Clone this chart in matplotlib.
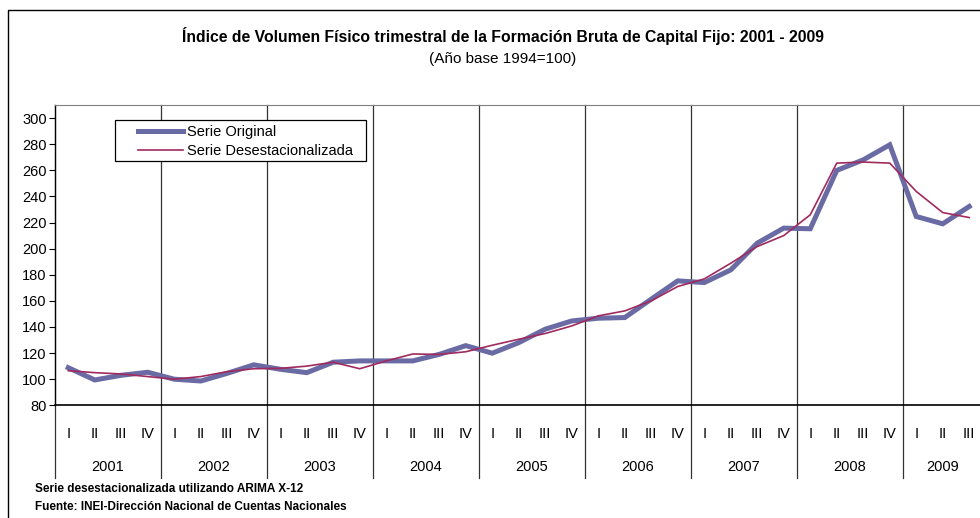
import matplotlib
matplotlib.use('Agg')
import matplotlib.pyplot as plt
from matplotlib import font_manager
from matplotlib.patches import Rectangle
import matplotlib.transforms as mtransforms

# fuente estrecha si existe
names = {f.name for f in font_manager.fontManager.ttflist}
if 'Liberation Sans Narrow' in names:
    FONT = 'Liberation Sans Narrow'
else:
    FONT = 'Liberation Sans'
plt.rcParams['font.family'] = [FONT, 'DejaVu Sans']

years = ['2001', '2002', '2003', '2004', '2005', '2006', '2007', '2008', '2009']
quarters = ['I', 'II', 'III', 'IV']
n_quarters = 35  # 2001 I .. 2009 III

serie_original = [108.8, 99.4, 103.0, 105.3, 100.0, 98.6, 104.5, 111.0,
                  107.6, 105.0, 113.0, 114.0, 114.0, 114.0, 119.0, 125.7,
                  119.9, 128.0, 138.3, 144.6, 146.7, 147.2, 161.3, 175.3,
                  174.0, 183.7, 204.2, 215.7, 215.2, 259.9, 268.0, 279.5,
                  224.6, 219.0, 232.3]
serie_desest = [106.5, 105.0, 104.0, 102.0, 100.0, 102.0, 105.8, 108.0,
                108.3, 110.0, 113.0, 108.0, 114.0, 119.3, 119.0, 121.0,
                126.0, 130.6, 135.0, 140.8, 148.5, 152.3, 160.0, 171.0,
                176.8, 188.8, 201.6, 210.0, 225.9, 265.5, 266.3, 265.5,
                243.8, 227.6, 223.8]

yticks = list(range(80, 301, 20))

W, H = 980, 518
fig = plt.figure(figsize=(W / 100, H / 100), dpi=100)

# marco exterior
fig.add_artist(Rectangle((8 / W, -0.01), 1.0, 1 - 9.5 / H + 0.01,
                         transform=fig.transFigure, fill=False,
                         edgecolor='black', linewidth=1.0))

ax_left, ax_right = 55, 982.5
ax_top, ax_bottom = 105, 405.3
ax = fig.add_axes([ax_left / W, (H - ax_bottom) / H,
                   (ax_right - ax_left) / W, (ax_bottom - ax_top) / H])

x = list(range(n_quarters))
ax.plot(x, serie_original, color='#6A6AA4', linewidth=3.6,
        solid_joinstyle='miter', label='Serie Original', zorder=3)
ax.plot(x, serie_desest, color='#A02A5E', linewidth=1.2,
        label='Serie Desestacionalizada', zorder=4)

ax.set_xlim(-0.5, n_quarters - 0.5)
ax.set_ylim(80, 310)
ax.set_yticks(yticks)
ax.set_yticklabels([str(v) for v in yticks], fontsize=10.5)
ax.tick_params(axis='y', direction='out', length=4, width=0.8, pad=2)
ax.set_xticks([])

ax.spines['right'].set_visible(False)
ax.spines['top'].set_color('#808080')
ax.spines['bottom'].set_linewidth(1.2)
ax.spines['left'].set_linewidth(0.9)

# separadores de año (dentro y debajo del gráfico)
trans = mtransforms.blended_transform_factory(ax.transData, ax.transAxes)
sep_bottom = (ax_bottom - 478) / (ax_bottom - ax_top)
for k in range(len(years)):
    xs = -0.5 + 4 * k
    ax.plot([xs, xs], [sep_bottom, 1.0], transform=trans, color='#333333',
            linewidth=0.9, clip_on=False, zorder=1)

# etiquetas de trimestre y año
q_y = (ax_bottom - 434) / (ax_bottom - ax_top)
y_y = (ax_bottom - 467) / (ax_bottom - ax_top)
for i in range(n_quarters):
    ax.text(i, q_y, quarters[i % 4], transform=trans, ha='center',
            va='center', fontsize=10.5)
for k, yr in enumerate(years):
    last = min(4 * k + 3, n_quarters - 1)
    ax.text((4 * k + last) / 2, y_y, yr, transform=trans, ha='center',
            va='center', fontsize=10.5)

# leyenda
to_ax = lambda px, py: ((px - ax_left) / (ax_right - ax_left),
                        (ax_bottom - py) / (ax_bottom - ax_top))
lx0, ly0 = to_ax(115, 161)
lx1, ly1 = to_ax(366, 120)
ax.add_patch(Rectangle((lx0, ly0), lx1 - lx0, ly1 - ly0, transform=ax.transAxes,
                       facecolor='white', edgecolor='black', linewidth=0.9,
                       zorder=5))
leg = ax.legend(loc='upper left', bbox_to_anchor=to_ax(136.5, 124),
                frameon=False, fontsize=10.5, handlelength=3.1,
                handletextpad=0.27, labelspacing=0.3, borderpad=0.1,
                borderaxespad=0)
leg.set_zorder(6)

# títulos
fig.text(503 / W, 1 - 36 / H,
         'Índice de Volumen Físico trimestral de la Formación Bruta de Capital Fijo: 2001 - 2009',
         ha='center', va='center', fontsize=11.3, fontweight='bold')
fig.text(503 / W, 1 - 59 / H, '(Año base 1994=100)', ha='center', va='center',
         fontsize=11)

# notas
fig.text(35 / W, 1 - 489 / H, 'Serie desestacionalizada utilizando ARIMA X-12',
         ha='left', va='center', fontsize=8.5, fontweight='bold')
fig.text(35 / W, 1 - 507 / H, 'Fuente: INEI-Dirección Nacional de Cuentas Nacionales',
         ha='left', va='center', fontsize=8.5, fontweight='bold')

fig.savefig('out.png', dpi=100)
